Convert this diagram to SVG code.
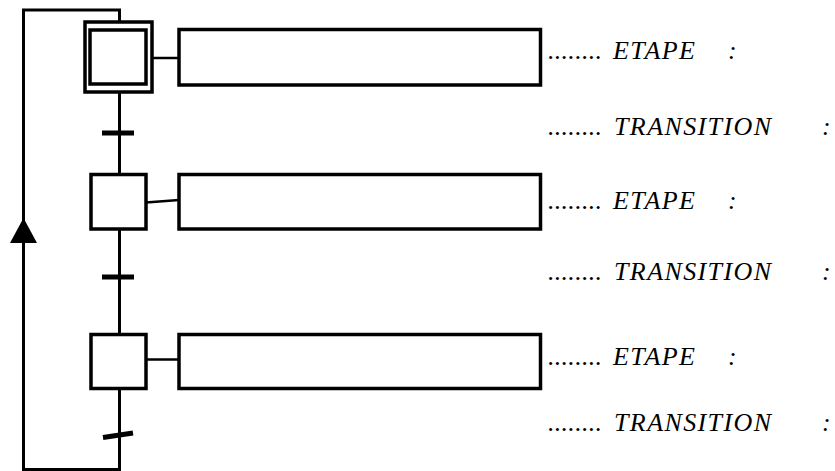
<svg xmlns="http://www.w3.org/2000/svg" width="835" height="471" viewBox="0 0 835 471">
  <style>
    .box { fill: #fff; stroke: #000; stroke-width: 3.5; }
    .link { fill: none; stroke: #000; stroke-width: 3; }
    .thin { fill: none; stroke: #000; stroke-width: 2.5; }
    .bar { stroke: #000; stroke-width: 5; }
    .lbl { font-family: 'Liberation Serif', 'Times New Roman', serif; font-style: italic; font-size: 26px; fill: #000; }
  </style>
  <rect width="835" height="471" fill="#fff"/>

  <!-- connectors: main chain, loop-back, transitions, action links -->
  <g id="connectors">
    <line class="link" x1="119.5" y1="92" x2="119.5" y2="174"/>
    <line class="link" x1="119.5" y1="229" x2="119.5" y2="334"/>
    <polyline class="link" points="119.5,388 119.5,469.5 23.5,469.5 23.5,10 119.5,10 119.5,22"/>
    <polygon points="23.5,218 10,243 37,243" fill="#000"/>
    <line class="bar" x1="102" y1="133" x2="134" y2="133"/>
    <line class="bar" x1="102" y1="277" x2="134" y2="277"/>
    <line class="bar" x1="103" y1="437.5" x2="133" y2="433"/>
    <line class="thin" x1="152" y1="58" x2="179" y2="58"/>
    <line class="thin" x1="146" y1="202.5" x2="179" y2="200"/>
    <line class="thin" x1="146" y1="359.5" x2="179" y2="359.5"/>
  </g>

  <!-- initial step -->
  <g id="step1">
    <rect class="box" x="85" y="22" width="67" height="70"/>
    <rect class="box" x="90" y="30" width="56" height="54"/>
  </g>
  <g id="step2">
    <rect class="box" x="91" y="174.5" width="55" height="54.5"/>
  </g>
  <g id="step3">
    <rect class="box" x="91" y="334.5" width="55" height="54"/>
  </g>

  <!-- action boxes -->
  <g id="action1">
    <rect class="box" x="179" y="29.5" width="361.5" height="55.5"/>
  </g>
  <g id="action2">
    <rect class="box" x="179" y="174.5" width="361.5" height="54.5"/>
  </g>
  <g id="action3">
    <rect class="box" x="179" y="334.5" width="361.5" height="54"/>
  </g>

  <!-- labels -->
  <g id="labels">
    <text class="lbl" x="548" y="59" textLength="54">........</text>
    <text class="lbl" x="613" y="59" textLength="82">ETAPE</text>
    <text class="lbl" x="728" y="59">:</text>

    <text class="lbl" x="548" y="135" textLength="54">........</text>
    <text class="lbl" x="614" y="135" textLength="157">TRANSITION</text>
    <text class="lbl" x="822" y="135">:</text>

    <text class="lbl" x="548" y="209" textLength="54">........</text>
    <text class="lbl" x="613" y="209" textLength="82">ETAPE</text>
    <text class="lbl" x="728" y="209">:</text>

    <text class="lbl" x="548" y="280" textLength="54">........</text>
    <text class="lbl" x="614" y="280" textLength="157">TRANSITION</text>
    <text class="lbl" x="822" y="280">:</text>

    <text class="lbl" x="548" y="365" textLength="54">........</text>
    <text class="lbl" x="613" y="365" textLength="82">ETAPE</text>
    <text class="lbl" x="728" y="365">:</text>

    <text class="lbl" x="548" y="431" textLength="54">........</text>
    <text class="lbl" x="614" y="431" textLength="157">TRANSITION</text>
    <text class="lbl" x="822" y="431">:</text>
  </g>
</svg>
